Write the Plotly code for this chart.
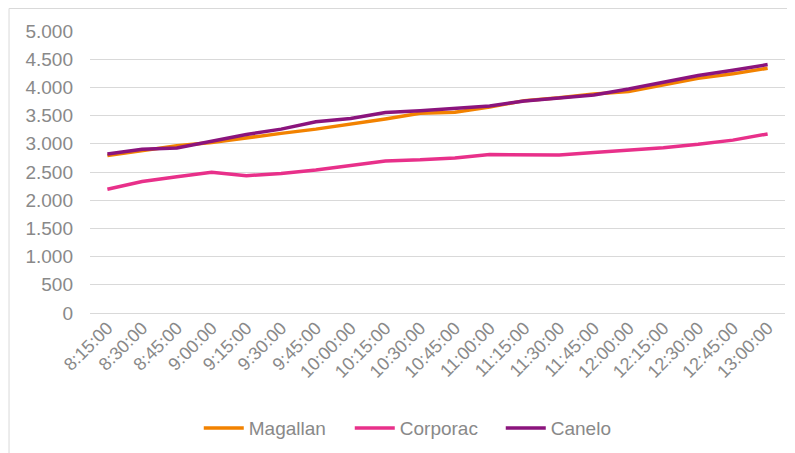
import plotly.graph_objects as go

times = [
    "8:15:00", "8:30:00", "8:45:00", "9:00:00", "9:15:00", "9:30:00", "9:45:00",
    "10:00:00", "10:15:00", "10:30:00", "10:45:00", "11:00:00", "11:15:00",
    "11:30:00", "11:45:00", "12:00:00", "12:15:00", "12:30:00", "12:45:00", "13:00:00",
]
magallan = [2790, 2880, 2965, 3025, 3110, 3185, 3260, 3345, 3440, 3540,
            3560, 3650, 3765, 3815, 3885, 3925, 4045, 4160, 4240, 4340]
corporac = [2195, 2330, 2415, 2495, 2435, 2475, 2535, 2610, 2695, 2715,
            2750, 2810, 2810, 2800, 2845, 2885, 2930, 2990, 3065, 3175]
canelo = [2820, 2905, 2925, 3045, 3165, 3260, 3390, 3450, 3555, 3585,
          3625, 3670, 3760, 3805, 3865, 3970, 4085, 4210, 4305, 4405]

series = [
    ("Magallan", magallan, "rgb(242, 130, 0)"),
    ("Corporac", corporac, "rgb(232, 48, 138)"),
    ("Canelo", canelo, "rgb(139, 20, 125)"),
]

fig = go.Figure()
for name, values, rgb in series:
    fig.add_trace(
        go.Scatter(
            x=times,
            y=values,
            mode="lines",
            name=name,
            line=dict(color=rgb, width=3.5),
        )
    )

gray = "rgb(137, 137, 137)"
# page body adds an 8px offset, so the figure is 8px smaller than the window
fig.update_layout(
    width=787,
    height=445,
    margin=dict(l=82, r=10, t=23, b=140, autoexpand=False),
    paper_bgcolor="white",
    plot_bgcolor="white",
    separators=",.",
    font=dict(family="Liberation Sans, Arial, sans-serif", color=gray, size=18),
    showlegend=True,
    legend=dict(
        orientation="h",
        x=0.1565,
        xanchor="left",
        y=-0.408,
        yanchor="middle",
        font=dict(size=19, color=gray),
        itemwidth=40,
        entrywidth=96,
    ),
    xaxis=dict(
        type="category",
        range=[-0.5, 19.5],
        tickangle=-45,
        showgrid=False,
        showline=False,
        ticks="",
        automargin=False,
        tickfont=dict(size=18, color=gray),
    ),
    yaxis=dict(
        range=[0, 5000],
        dtick=500,
        tickformat=",d",
        showgrid=True,
        gridcolor="rgb(217, 217, 217)",
        gridwidth=1,
        zeroline=True,
        zerolinecolor="rgb(217, 217, 217)",
        zerolinewidth=1,
        ticks="",
        ticklabelstandoff=16,
        automargin=False,
        tickfont=dict(size=19, color=gray),
    ),
    shapes=[
        dict(
            type="rect",
            xref="paper",
            yref="paper",
            x0=-0.1165,
            x1=1.03,
            y0=-0.53,
            y1=1.0798,
            line=dict(color="rgb(217, 217, 217)", width=1),
            fillcolor="rgba(0,0,0,0)",
            layer="below",
        )
    ],
)

fig.write_html("out.html")
